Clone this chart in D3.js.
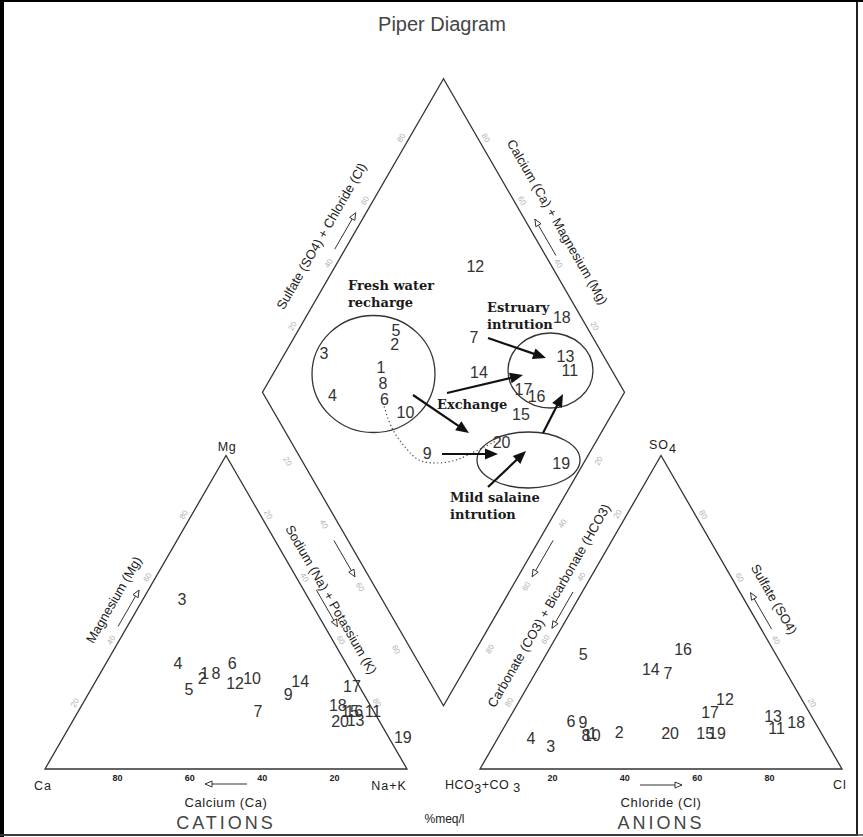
<!DOCTYPE html>
<html><head><meta charset="utf-8">
<script src="https://cdn.jsdelivr.net/npm/d3@7"></script>
<style>body{margin:0;background:#fff}svg{display:block}</style>
</head><body>
<svg id="c" width="863" height="837"></svg>
<script>
// ---------------- DATA ----------------
const sampleIds = [1,2,3,4,5,6,7,8,9,10,11,12,13,14,15,16,17,18,19,20];
// cations (% meq/l)
const mgPct  = [30.6,29.0,54.2,33.8,25.5,33.8,18.5,30.6,23.9,29.0,18.2,27.4,15.6,27.8,18.5,18.2,26.2,20.4, 9.9,15.0];
const nakPct = [28.8,28.9,10.7,19.8,27.0,34.8,49.6,31.9,55.2,42.7,81.5,38.8,78.0,56.6,75.0,76.3,71.7,70.7,93.9,74.0];
// anions (% meq/l)
const so4Pct = [11.2,11.5, 7.3, 9.6,36.4,15.0,30.6,10.8,14.7,10.8,12.8,22.3,16.9,31.6,11.2,38.0,17.9,14.7,11.2,11.2];
const clPct  = [25.5,32.7,15.9, 9.3,10.3,17.6,36.6,23.9,21.1,25.5,75.5,56.5,72.5,31.4,56.6,37.1,54.6,80.0,59.9,46.9];
const tickValues = [20,40,60,80];
const annotationTexts = [["Fresh water","recharge"],["Estruary","intrution"],["Exchange"],["Mild salaine","intrution"]];

// ---------------- LAYOUT ----------------
const svg = d3.select('#c');
const W = 863, Hh = 837;
const S = 362, sin60 = Math.sqrt(3)/2, TH = S*sin60;
const baseY = 769, catX0 = 45, gap = 73, anX0 = catX0 + S + gap;
const len = d3.scaleLinear().domain([0,100]).range([0,S]);

const Ca = [catX0, baseY], NaK = [catX0+S, baseY], Mg = [catX0+S/2, baseY-TH];
const HCO = [anX0, baseY], Cl = [anX0+S, baseY], SO4 = [anX0+S/2, baseY-TH];
const B = [catX0+S+gap/2, baseY-gap*sin60];
const Ld = [B[0]-S/2, B[1]-TH], Rd = [B[0]+S/2, B[1]-TH], Td = [B[0], B[1]-2*TH];

const cat = (mg,nak) => [catX0 + len(nak) + len(mg)/2, baseY - len(mg)*sin60];
const an  = (so4,cl) => [anX0 + len(cl) + len(so4)/2, baseY - len(so4)*sin60];
const dia = (mg,nak,so4,cl) => { const a = len(100-nak), b = len(so4+cl);
  return [B[0] + (b-a)/2, B[1] - (a+b)*sin60]; };

const NLu = [-sin60,-0.5], NRu = [sin60,-0.5], NLd = [-sin60,0.5], NRd = [sin60,0.5], Ndown=[0,1];
function along(p0,p1,t,n,off){ return [p0[0]+(p1[0]-p0[0])*t+n[0]*off, p0[1]+(p1[1]-p0[1])*t+n[1]*off]; }
function unit(p0,p1){ const dx=p1[0]-p0[0], dy=p1[1]-p0[1], l=Math.hypot(dx,dy); return [dx/l,dy/l]; }

svg.append('rect').attr('width',W).attr('height',Hh).attr('fill','#fff');

// frame
svg.append('rect').attr('x',2).attr('y',1).attr('width',855).attr('height',834)
  .attr('fill','none').attr('stroke','#222').attr('stroke-width',2);
svg.append('line').attr('x1',2).attr('x2',2).attr('y1',0).attr('y2',837).attr('stroke','#000').attr('stroke-width',4);
svg.append('line').attr('x1',0).attr('x2',W).attr('y1',1).attr('y2',1).attr('stroke','#000').attr('stroke-width',2);
svg.append('line').attr('x1',0).attr('x2',W).attr('y1',835).attr('y2',835).attr('stroke','#444').attr('stroke-width',1.5);

// title
svg.append('text').attr('x',442).attr('y',24).attr('text-anchor','middle').attr('dominant-baseline','central')
  .attr('font-family','Liberation Sans, Arial, sans-serif').attr('font-size',20).attr('fill','#444').text('Piper Diagram');

// outlines
const shapes = [[Ca,NaK,Mg],[HCO,Cl,SO4],[B,Rd,Td,Ld]];
svg.selectAll('path.shape').data(shapes).enter().append('path').attr('class','shape')
  .attr('d', d => d3.line()(d) + 'Z').attr('fill','none').attr('stroke','#333').attr('stroke-width',1.3);

// gray tick labels along edges
const tickEdges = [
  {p0:Ca, p1:Mg, n:NLu, off:7, rot:-60},
  {p0:Mg, p1:NaK, n:NRu, off:7, rot:60},
  {p0:Ld, p1:B, n:NLd, off:13, rot:60},
  {p0:Ld, p1:Td, n:NLu, off:7, rot:-60},
  {p0:Rd, p1:Td, n:NRu, off:7, rot:60},
  {p0:Rd, p1:B, n:NRd, off:12, rot:-60},
  {p0:SO4, p1:HCO, n:NLu, off:8, rot:-60},
  {p0:Cl, p1:SO4, n:NRu, off:7, rot:60}
];
tickEdges.forEach(e => {
  tickValues.forEach(v => {
    const p = along(e.p0,e.p1,v/100,e.n,e.off);
    svg.append('text').attr('transform',`translate(${p[0]},${p[1]}) rotate(${e.rot})`)
      .attr('text-anchor','middle').attr('dominant-baseline','central')
      .attr('font-family','Liberation Sans, Arial, sans-serif').attr('font-size',8)
      .attr('fill','#b4b4b4').text(v);
  });
});
// black base tick labels
[{p0:NaK,p1:Ca},{p0:HCO,p1:Cl}].forEach(e => {
  tickValues.forEach(v => {
    const p = along(e.p0,e.p1,v/100,Ndown,9);
    svg.append('text').attr('x',p[0]).attr('y',p[1]).attr('text-anchor','middle').attr('dominant-baseline','central')
      .attr('font-family','Liberation Sans, Arial, sans-serif').attr('font-size',9).attr('font-weight','bold')
      .attr('fill','#222').text(v);
  });
});

// axis titles
const fontS = 'Liberation Sans, Arial, sans-serif';
const axisTitles = [
  {p0:Ca, p1:Mg, t:0.5, n:NLu, off:25, rot:-60, txt:'Magnesium (Mg)'},
  {p0:Mg, p1:NaK, t:0.49, n:NRu, off:19, rot:60, txt:'Sodium (Na) + Potassium (K)'},
  {p0:HCO, p1:SO4, t:0.486, n:NLu, off:22, rot:-60, txt:'Carbonate (CO3) + Bicarbonate (HCO3)'},
  {p0:Cl, p1:SO4, t:0.5, n:NRu, off:26, rot:60, txt:'Sulfate (SO4)'},
  {p0:Ld, p1:Td, t:0.455, n:NLu, off:27, rot:-60, txt:'Sulfate (SO4) + Chloride (Cl)'},
  {p0:Rd, p1:Td, t:0.5, n:NRu, off:27, rot:60, txt:'Calcium (Ca) + Magnesium (Mg)'}
];
axisTitles.forEach(a => {
  const p = along(a.p0,a.p1,a.t,a.n,a.off);
  svg.append('text').attr('transform',`translate(${p[0]},${p[1]}) rotate(${a.rot})`)
    .attr('text-anchor','middle').attr('dominant-baseline','central')
    .attr('font-family',fontS).attr('font-size',13).attr('fill','#222').text(a.txt);
});

// small arrows
function smallArrow(c, d, L){
  const a = [c[0]-d[0]*L/2, c[1]-d[1]*L/2], b = [c[0]+d[0]*L/2, c[1]+d[1]*L/2];
  svg.append('line').attr('x1',a[0]).attr('y1',a[1]).attr('x2',b[0]).attr('y2',b[1]).attr('stroke','#333').attr('stroke-width',1);
  const px = [-d[1], d[0]], hl = 7, hw = 3;
  const base = [b[0]-d[0]*hl, b[1]-d[1]*hl];
  svg.append('path').attr('d', d3.line()([b,[base[0]+px[0]*hw, base[1]+px[1]*hw],[base[0]-px[0]*hw, base[1]-px[1]*hw]])+'Z')
    .attr('fill','#fff').attr('stroke','#333').attr('stroke-width',1);
}
const smallArrows = [
  {p0:Ca, p1:Mg, t:0.5, n:NLu, off:8, to:Mg, from:Ca},
  {p0:Mg, p1:NaK, t:0.41, n:NRu, off:51, to:NaK, from:Mg},
  {p0:Mg, p1:NaK, t:0.505, n:NRu, off:11, to:NaK, from:Mg},
  {p0:HCO, p1:SO4, t:0.59, n:NLu, off:51, to:HCO, from:SO4},
  {p0:HCO, p1:SO4, t:0.494, n:NLu, off:8, to:HCO, from:SO4},
  {p0:Cl, p1:SO4, t:0.49, n:NRu, off:9, to:SO4, from:Cl},
  {p0:Ld, p1:Td, t:0.5, n:NLu, off:9, to:Td, from:Ld},
  {p0:Rd, p1:Td, t:0.48, n:NRu, off:9, to:Td, from:Rd},
  {p0:NaK, p1:Ca, t:0.5, n:Ndown, off:15, to:Ca, from:NaK},
  {p0:HCO, p1:Cl, t:0.5, n:Ndown, off:16, to:Cl, from:HCO}
];
smallArrows.forEach(a => smallArrow(along(a.p0,a.p1,a.t,a.n,a.off), unit(a.from,a.to), 42));

// vertex labels and bottom titles
function txt(x,y,s,opt={}){
  return svg.append('text').attr('x',x).attr('y',y).attr('text-anchor',opt.anchor||'middle').attr('dominant-baseline','central')
    .attr('font-family',opt.font||fontS).attr('font-size',opt.size||12).attr('fill',opt.fill||'#222')
    .attr('letter-spacing',opt.ls||0).attr('font-weight',opt.weight||'normal').text(s);
}
txt(Mg[0]+1, Mg[1]-8, 'Mg', {size:12.5, ls:0.5});
txt(Ca[0]-2, Ca[1]+17, 'Ca', {size:12.5, ls:1});
txt(NaK[0]-18, NaK[1]+17, 'Na+K', {size:12.5, ls:1});
txt(Cl[0]-2, Cl[1]+16, 'Cl', {size:12.5, ls:1});
const so4t = txt(SO4[0]+2, SO4[1]-10, '', {size:12.5, ls:1});
so4t.append('tspan').text('SO');
so4t.append('tspan').attr('dy',4).text('4');
const hco = svg.append('text').attr('x',HCO[0]-35).attr('y',HCO[1]+16).attr('dominant-baseline','central')
  .attr('font-family',fontS).attr('font-size',12.5).attr('letter-spacing',0.5).attr('fill','#222');
hco.append('tspan').text('HCO');
hco.append('tspan').attr('dy',4).text('3');
hco.append('tspan').attr('dy',-4).text('+CO ');
hco.append('tspan').attr('dy',3).text('3');
txt((Ca[0]+NaK[0])/2, 802, 'Calcium (Ca)', {size:13, ls:0.6});
txt((HCO[0]+Cl[0])/2, 802, 'Chloride (Cl)', {size:13, ls:0.6});
txt((Ca[0]+NaK[0])/2, 823, 'CATIONS', {size:18, ls:3, fill:'#444'});
txt((HCO[0]+Cl[0])/2, 823, 'ANIONS', {size:18, ls:3, fill:'#444'});
txt(B[0]+1, 819, '%meq/l', {size:12});

// ---------------- ANNOTATIONS ----------------
const ellipses = [
  {cx:373.5, cy:374, rx:61.5, ry:58.5},
  {cx:550.5, cy:370.5, rx:42.5, ry:37.5},
  {cx:528.5, cy:460, rx:51.5, ry:28}
];
svg.selectAll('ellipse').data(ellipses).enter().append('ellipse')
  .attr('cx',d=>d.cx).attr('cy',d=>d.cy).attr('rx',d=>d.rx).attr('ry',d=>d.ry)
  .attr('fill','none').attr('stroke','#333').attr('stroke-width',1.3);

const dotPts = [[383,403],[392,428],[405,447],[419,460],[437,463],[456,460],[476,451],[496,441]];
svg.append('path').attr('d', d3.line().curve(d3.curveCatmullRom)(dotPts))
  .attr('fill','none').attr('stroke','#444').attr('stroke-width',1.2).attr('stroke-dasharray','1.2,2.6');

const bigArrows = [
  [[488,338],[546,358]],
  [[447,393],[523,375]],
  [[413,395],[469,433]],
  [[543,433],[563,394]],
  [[442,454],[498,454]],
  [[488,487],[526,451]]
];
bigArrows.forEach(([a,b]) => {
  const d = unit(a,b), px = [-d[1],d[0]], hl = 13, hw = 5.5;
  const base = [b[0]-d[0]*hl, b[1]-d[1]*hl];
  svg.append('line').attr('x1',a[0]).attr('y1',a[1]).attr('x2',base[0]+d[0]*2).attr('y2',base[1]+d[1]*2)
    .attr('stroke','#111').attr('stroke-width',2.2);
  svg.append('path').attr('d', d3.line()([b,[base[0]+px[0]*hw, base[1]+px[1]*hw],[base[0]-px[0]*hw, base[1]-px[1]*hw]])+'Z')
    .attr('fill','#111');
});

const annoPos = [{x:348,y:290},{x:487,y:312},{x:437,y:409},{x:450,y:502}];
annotationTexts.forEach((lines,i) => {
  const t = svg.append('text').attr('x',annoPos[i].x).attr('y',annoPos[i].y)
    .attr('font-family','DejaVu Serif, serif').attr('font-weight','bold').attr('font-size',13).attr('fill','#1a1a1a');
  lines.forEach((l,j) => t.append('tspan').attr('x',annoPos[i].x).attr('dy', j===0?0:17).text(l));
});

// ---------------- SAMPLE LABELS ----------------
const samples = sampleIds.map((id,i) => ({id, mg:mgPct[i], nak:nakPct[i], so4:so4Pct[i], cl:clPct[i]}));
const labelStyle = sel => sel.attr('text-anchor','middle').attr('dominant-baseline','central')
  .attr('font-family',fontS).attr('font-size',16).attr('fill','#333').text(d=>d.id);
svg.append('g').selectAll('text').data(samples).enter().append('text')
  .attr('x',d=>cat(d.mg,d.nak)[0]).attr('y',d=>cat(d.mg,d.nak)[1]).call(labelStyle);
svg.append('g').selectAll('text').data(samples).enter().append('text')
  .attr('x',d=>an(d.so4,d.cl)[0]).attr('y',d=>an(d.so4,d.cl)[1]).call(labelStyle);
svg.append('g').selectAll('text').data(samples).enter().append('text')
  .attr('x',d=>dia(d.mg,d.nak,d.so4,d.cl)[0]).attr('y',d=>dia(d.mg,d.nak,d.so4,d.cl)[1]).call(labelStyle);
</script>
</body></html>
